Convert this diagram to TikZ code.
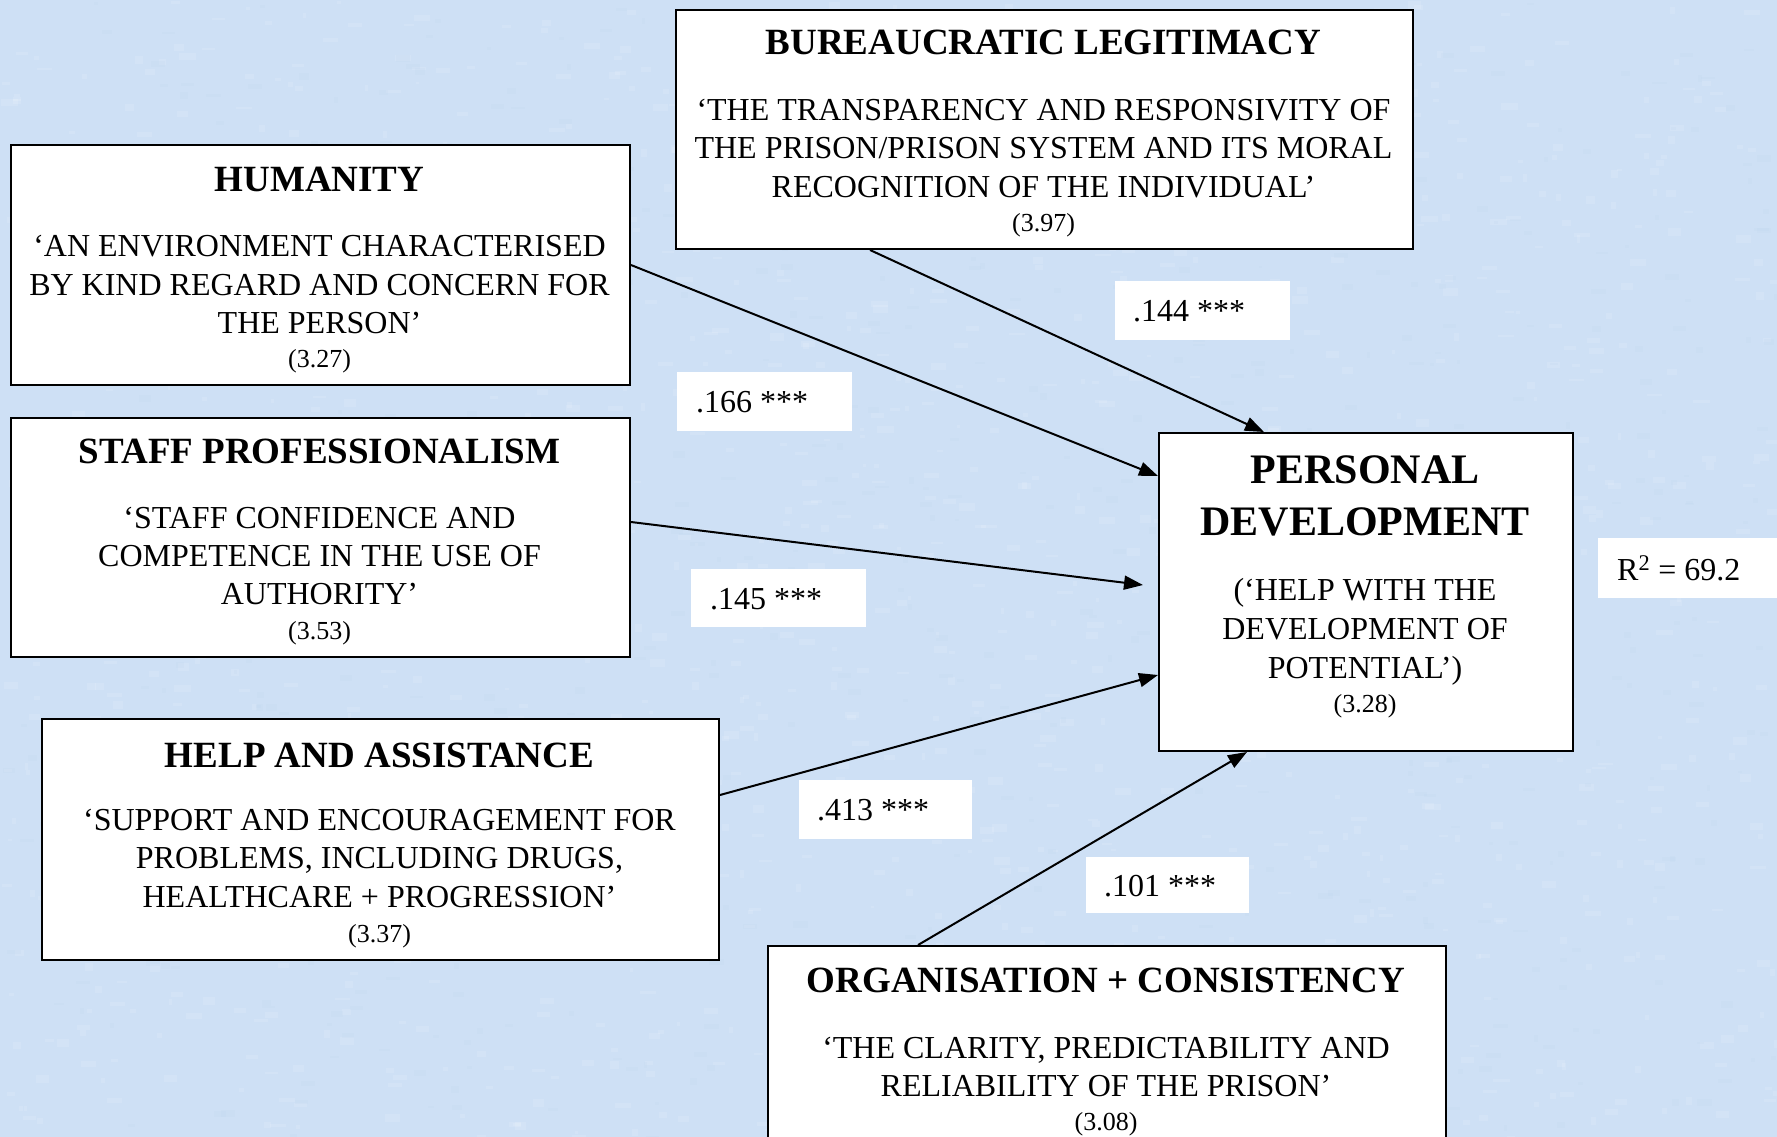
\documentclass[tikz,border=0pt]{standalone}
\usepackage{fontspec}
\setmainfont{Liberation Serif}
\usetikzlibrary{arrows.meta,calc}
\definecolor{bgblue}{RGB}{206,224,245}
\definecolor{bgdark}{RGB}{185,208,236}
\newcommand\ttlf{\fontsize{37}{44}\selectfont\bfseries}
\newcommand\bodyf{\fontsize{32}{38}\selectfont}
\newcommand\numf{\fontsize{26}{31}\selectfont}
\newcommand\bigf{\fontsize{42}{52}\selectfont\bfseries}
\begin{document}
\begin{tikzpicture}[x=1pt,y=-1pt,
  boxnode/.style={draw=black, line width=2pt, fill=white, rectangle, inner sep=0pt, anchor=north west},
  ttl/.style={anchor=base, inner sep=0pt, font=\ttlf},
  bln/.style={anchor=base, inner sep=0pt, font=\bodyf},
  num/.style={anchor=base, inner sep=0pt, font=\numf},
  big/.style={anchor=base, inner sep=0pt, font=\bigf},
  lbl/.style={fill=white, inner sep=0pt, anchor=north west},
  lbltxt/.style={anchor=base west, inner sep=0pt, font=\bodyf},
  conn/.style={line width=2pt, -{Triangle[length=19pt,width=14pt]}}]
\fill[bgblue] (0,0) rectangle (1777,1137);
\useasboundingbox (0,0) rectangle (1777,1137);
% subtle background texture
\pgfmathsetseed{7}
\begin{scope}
\clip (0,0) rectangle (1777,1137);
\foreach \i in {1,...,1400}{
  \pgfmathsetmacro{\px}{rnd*1777}
  \pgfmathsetmacro{\py}{rnd*1137}
  \pgfmathsetmacro{\pw}{3+rnd*14}
  \pgfmathsetmacro{\ph}{2+rnd*6}
  \fill[white, opacity=0.12] (\px,\py) rectangle ++(\pw,\ph);
}
\foreach \i in {1,...,700}{
  \pgfmathsetmacro{\px}{rnd*1777}
  \pgfmathsetmacro{\py}{rnd*1137}
  \pgfmathsetmacro{\pw}{3+rnd*12}
  \pgfmathsetmacro{\ph}{2+rnd*5}
  \fill[bgdark, opacity=0.12] (\px,\py) rectangle ++(\pw,\ph);
}
\end{scope}
% main boxes
\node[boxnode, minimum width=737pt, minimum height=239pt] (bur) at (675,9) {};
\node[boxnode, minimum width=619pt, minimum height=240pt] (hum) at (10,144) {};
\node[boxnode, minimum width=619pt, minimum height=239pt] (sp) at (10,417) {};
\node[boxnode, minimum width=677pt, minimum height=241pt] (help) at (41,718) {};
\node[boxnode, minimum width=678pt, minimum height=230pt] (org) at (767,945) {};
\node[boxnode, minimum width=414pt, minimum height=318pt] (pd) at (1158,432) {};
% bureaucratic legitimacy
\node[ttl] (bur-t) at (1043.5,55) {BUREAUCRATIC LEGITIMACY};
\node[bln] (bur-1) at (1043.5,120.5) {‘THE TRANSPARENCY AND RESPONSIVITY OF};
\node[bln] (bur-2) at (1043.5,158.5) {THE PRISON/PRISON SYSTEM AND ITS MORAL};
\node[bln] (bur-3) at (1043.5,197) {RECOGNITION OF THE INDIVIDUAL’};
\node[num] (bur-n) at (1043.5,231) {(3.97)};
% humanity
\node[ttl] (hum-t) at (319.5,191) {HUMANITY};
\node[bln] (hum-1) at (319.5,256.5) {‘AN ENVIRONMENT CHARACTERISED};
\node[bln] (hum-2) at (319.5,295) {BY KIND REGARD AND CONCERN FOR};
\node[bln] (hum-3) at (319.5,333.5) {THE PERSON’};
\node[num] (hum-n) at (319.5,367) {(3.27)};
% staff professionalism
\node[ttl] (sp-t) at (319.5,463) {STAFF PROFESSIONALISM};
\node[bln] (sp-1) at (319.5,528.5) {‘STAFF CONFIDENCE AND};
\node[bln] (sp-2) at (319.5,566) {COMPETENCE IN THE USE OF};
\node[bln] (sp-3) at (319.5,604.5) {AUTHORITY’};
\node[num] (sp-n) at (319.5,639) {(3.53)};
% help and assistance
\node[ttl] (help-t) at (379.5,767) {HELP AND ASSISTANCE};
\node[bln] (help-1) at (379.5,830) {‘SUPPORT AND ENCOURAGEMENT FOR};
\node[bln] (help-2) at (379.5,868) {PROBLEMS, INCLUDING DRUGS,};
\node[bln] (help-3) at (379.5,907) {HEALTHCARE + PROGRESSION’};
\node[num] (help-n) at (379.5,942) {(3.37)};
% organisation + consistency
\node[ttl] (org-t) at (1106,992) {ORGANISATION + CONSISTENCY};
\node[bln] (org-1) at (1106,1058) {‘THE CLARITY, PREDICTABILITY AND};
\node[bln] (org-2) at (1106,1096) {RELIABILITY OF THE PRISON’};
\node[num] (org-n) at (1106,1130) {(3.08)};
% personal development
\node[big] (pd-t1) at (1365,483) {PERSONAL};
\node[big] (pd-t2) at (1365,535) {DEVELOPMENT};
\node[bln] (pd-1) at (1365,600.5) {(‘HELP WITH THE};
\node[bln] (pd-2) at (1365,639.5) {DEVELOPMENT OF};
\node[bln] (pd-3) at (1365,678) {POTENTIAL’)};
\node[num] (pd-n) at (1365,712) {(3.28)};
% coefficient labels
\node[lbl, minimum width=175pt, minimum height=59pt] (l144) at (1115,281) {};
\node[lbltxt] (l144-t) at (1133,321.5) {.144 ***};
\node[lbl, minimum width=175pt, minimum height=59pt] (l166) at (677,372) {};
\node[lbltxt] (l166-t) at (696,412.5) {.166 ***};
\node[lbl, minimum width=175pt, minimum height=58pt] (l145) at (691,569) {};
\node[lbltxt] (l145-t) at (710,609) {.145 ***};
\node[lbl, minimum width=173pt, minimum height=59pt] (l413) at (799,780) {};
\node[lbltxt] (l413-t) at (817,820.5) {.413 ***};
\node[lbl, minimum width=163pt, minimum height=56pt] (l101) at (1086,857) {};
\node[lbltxt] (l101-t) at (1104,896) {.101 ***};
\node[lbl, minimum width=185pt, minimum height=60pt] (r2) at (1598,538) {};
\node[lbltxt] (r2-t) at (1617,580) {R\textsuperscript{2} = 69.2};
% connectors
\draw[conn] (hum.east) -- ($(pd.north west)+(0,44)$);
\draw[conn] ($(bur.south west)+(195,0)$) -- ($(pd.north west)+(106,0)$);
\draw[conn] ($(sp.north east)+(0,105)$) -- ($(pd.north west)+(-15,153)$);
\draw[conn] ($(help.north east)+(0,77)$) -- ($(pd.north west)+(0,243)$);
\draw[conn] ($(org.north west)+(151,0)$) -- ($(pd.south west)+(89,0)$);
\end{tikzpicture}
\end{document}
